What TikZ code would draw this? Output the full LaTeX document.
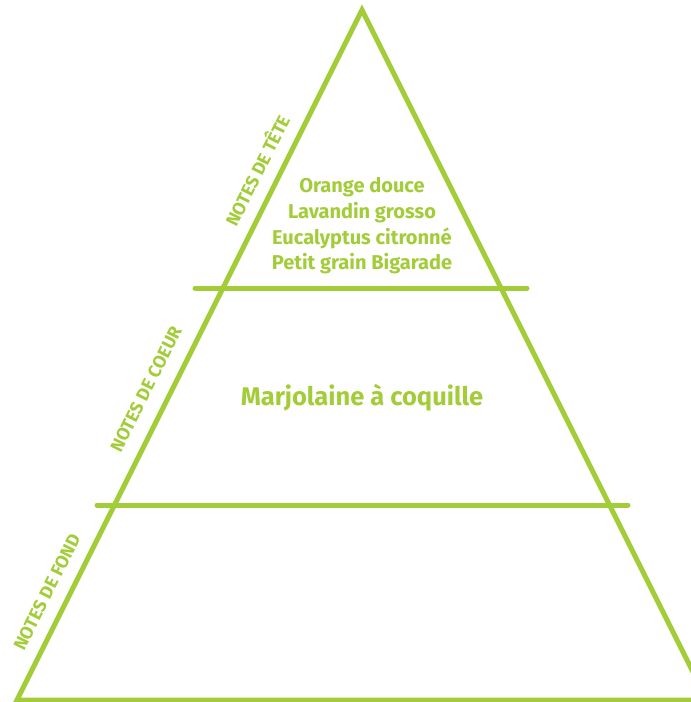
\documentclass[tikz,border=0pt]{standalone}
\usepackage{fontspec}
\setmainfont{Fira Sans}[BoldFont={Fira Sans Bold}]
\usepackage{tikz}
\usetikzlibrary{positioning}
\definecolor{lime}{RGB}{163,204,57}

\begin{document}
\begin{tikzpicture}[x=1pt,y=-1pt, edge/.style={draw=lime,line width=5pt,line cap=round,line join=miter},
  note/.style={text=lime,font=\bfseries\fontsize{20}{25.7}\selectfont,align=center},
  level/.style={text=lime,font=\bfseries\fontsize{18}{20}\selectfont,rotate=63.43}]
\clip (0,0) rectangle (691,702);
\coordinate (top) at (362,10);
\coordinate (bl) at (17,700);
\coordinate (br) at (707,700);
\draw[edge] (bl) -- (top) -- (br) -- cycle;
\coordinate (h1l) at (195,288);
\coordinate (h1r) at (527,288);
\coordinate (h2l) at (97,505);
\coordinate (h2r) at (628,505);
\draw[edge] (h1l) -- (h1r);
\draw[edge] (h2l) -- (h2r);
% tiers
\node[note] (tete) at (362,226) {Orange douce\\Lavandin grosso\\Eucalyptus citronné\\Petit grain Bigarade};
\node[note,font=\bfseries\fontsize{25.5}{28}\selectfont] (coeur) at (362,398) {Marjolaine à coquille};
% side labels
\node[level] (ltete) at (256,170) {NOTES DE TÊTE};
\node[level] (lcoeur) at (146,389) {NOTES DE COEUR};
\node[level] (lfond) at (47,592) {NOTES DE FOND};
\end{tikzpicture}
\end{document}
